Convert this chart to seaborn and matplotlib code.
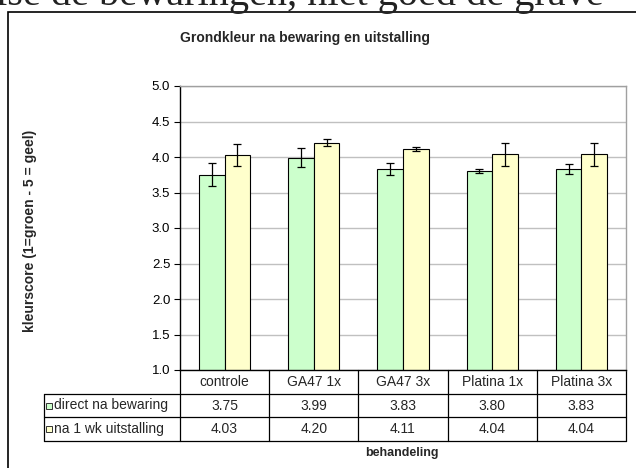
import pandas as pd
import seaborn as sns
import matplotlib.pyplot as plt
from matplotlib.patches import Rectangle

# set a style
sns.set_style("white")
plt.rcParams['font.family'] = ['Liberation Sans', 'DejaVu Sans']

# ======================
# data

behandelingen = ['controle', 'GA47 1x', 'GA47 3x', 'Platina 1x', 'Platina 3x']
series_names = ['direct na bewaring', 'na 1 wk uitstalling']
direct = [3.75, 3.99, 3.83, 3.80, 3.83]
uitstalling = [4.03, 4.20, 4.11, 4.04, 4.04]
err_direct = [0.16, 0.13, 0.09, 0.03, 0.07]
err_uitstalling = [0.16, 0.05, 0.03, 0.16, 0.16]
series_colors = ['#CCFFCC', '#FFFFCC']

df = pd.DataFrame({
    'behandeling': behandelingen * 2,
    'serie': [series_names[0]] * len(direct) + [series_names[1]] * len(uitstalling),
    'kleurscore': direct + uitstalling,
})

# ======================
# figure, sizes in pixels

W, H = 636, 468
fig = plt.figure(figsize=(W / 100, H / 100), dpi=100)
ax = fig.add_axes([180 / W, 1 - 370 / H, 446 / W, 284 / H])

sns.barplot(data=df, x='behandeling', y='kleurscore', hue='serie',
            order=behandelingen, hue_order=series_names,
            palette=series_colors, saturation=1, width=0.576,
            edgecolor='black', linewidth=0.8, errorbar=None,
            legend=False, ax=ax)

# error bars on top of the bars
for bars, errs in zip(ax.containers, [err_direct, err_uitstalling]):
    xs = [b.get_x() + b.get_width() / 2 for b in bars]
    ys = [b.get_y() + b.get_height() for b in bars]
    ax.errorbar(xs, ys, yerr=errs, fmt='none', ecolor='black',
                elinewidth=0.9, capsize=3, capthick=0.9, zorder=5)

ax.set_yticks([1.0, 1.5, 2.0, 2.5, 3.0, 3.5, 4.0, 4.5, 5.0])
ax.yaxis.set_major_formatter('{x:.1f}')
ax.set_xticks([])
ax.set_xlabel('')
ax.set_ylabel('')
ax.set_axisbelow(True)
ax.yaxis.grid(True, color='#C0C0C0', linewidth=1)
ax.tick_params(axis='y', left=True, direction='out', length=4, width=0.8,
               pad=3, labelsize=9.5, colors='black')
for side in ['left', 'bottom']:
    ax.spines[side].set_color('black')
    ax.spines[side].set_linewidth(1)
for side in ['top', 'right']:
    ax.spines[side].set_color('#A0A0A0')
    ax.spines[side].set_linewidth(1)

# ======================
# data table under the plot (x in category units, y in axes units)

trans = ax.get_xaxis_transform()
n = len(behandelingen)
row_h = 1 / 12
label_left = -0.5 - 136 / 89.2
line_kw = dict(color='black', lw=0.9, transform=trans, clip_on=False)

for k in range(1, 4):
    ax.plot([label_left, n - 0.5], [-k * row_h, -k * row_h], **line_kw)
ax.plot([label_left, label_left], [-row_h, -3 * row_h], **line_kw)
for j in range(n + 1):
    ax.plot([j - 0.5, j - 0.5], [0, -3 * row_h], **line_kw)

for j, name in enumerate(behandelingen):
    ax.text(j, -0.5 * row_h, name, transform=trans, ha='center', va='center', fontsize=10)
for i, vals in enumerate([direct, uitstalling]):
    yc = -(i + 1.5) * row_h
    for j, v in enumerate(vals):
        ax.text(j, yc, f'{v:.2f}', transform=trans, ha='center', va='center', fontsize=10)
    ax.text(label_left + 9.5 / 89.2, yc, series_names[i], transform=trans,
            ha='left', va='center', fontsize=10)
    # legend key
    ax.plot([label_left + 5 / 89.2], [yc], marker='s', ms=3.8, mfc=series_colors[i],
            mec='#333333', mew=0.7, transform=trans, clip_on=False)

ax.set_xlim(-0.5, n - 0.5)
ax.set_ylim(1.0, 5.0)

# ======================
# texts and frame

fig.text(305 / W, 1 - 38 / H, 'Grondkleur na bewaring en uitstalling',
         ha='center', va='center', fontsize=10, fontweight='bold')
fig.text(30 / W, 1 - 231 / H, 'kleurscore (1=groen - 5 = geel)',
         rotation=90, ha='center', va='center', fontsize=10, fontweight='bold')
fig.text(402 / W, 1 - 453 / H, 'behandeling',
         ha='center', va='center', fontsize=9, fontweight='bold')

# chart frame, only left and top edge fall inside the picture
fig.add_artist(Rectangle((8 / W, -0.1), 1.2, 1.1 - 12 / H, transform=fig.transFigure,
                         fill=False, edgecolor='black', linewidth=1.2))

# bottom of a line of running text, cut off above the chart
fig.text(-4 / W, 1 - 5 / H, 'ise de bewaringen, niet goed de grave',
         ha='left', va='baseline', fontsize=29, family='Liberation Serif',
         color='#222222')

fig.savefig('out.png', dpi=100)
